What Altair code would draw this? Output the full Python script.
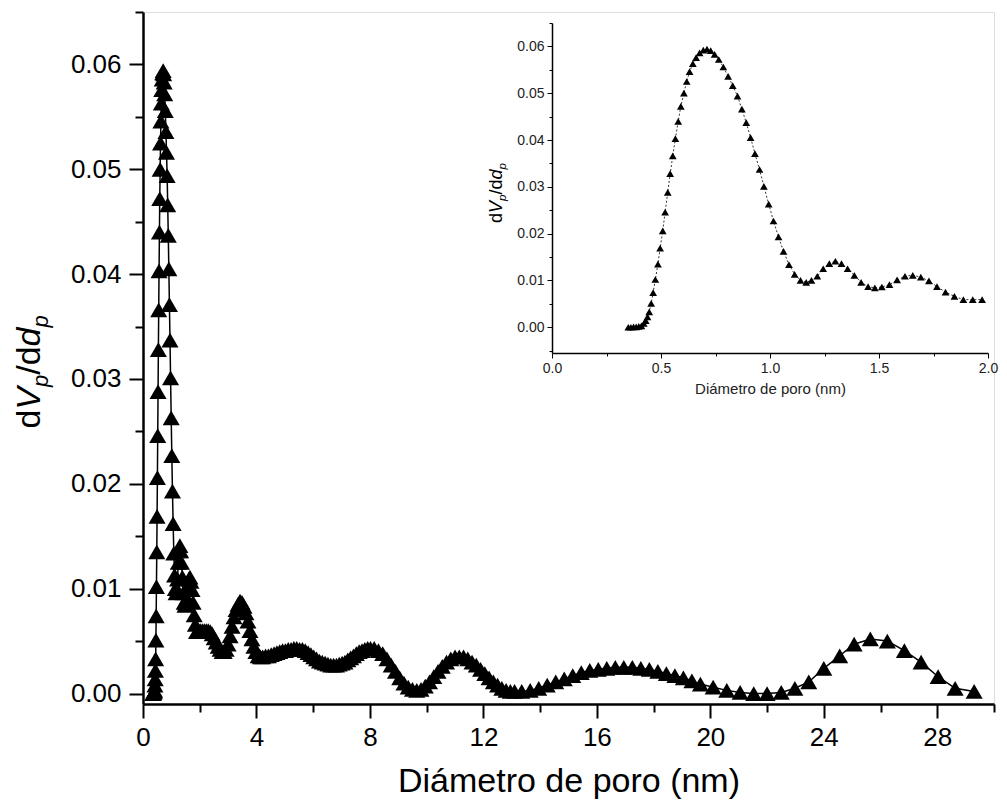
import altair as alt
import pandas as pd

# ---------------- data ----------------
# micropore region (also shown in the inset)
micro_x = [0.350, 0.362, 0.374, 0.386, 0.398, 0.410, 0.421, 0.430, 0.438, 0.446,
           0.455, 0.464, 0.474, 0.486, 0.496, 0.508, 0.519, 0.531, 0.542, 0.554,
           0.566, 0.579, 0.591, 0.605, 0.618, 0.631, 0.646, 0.661, 0.677, 0.694,
           0.711, 0.728, 0.746, 0.765, 0.786, 0.808, 0.829, 0.851, 0.871, 0.891,
           0.911, 0.931, 0.952, 0.972, 0.994, 1.016, 1.039, 1.062, 1.087, 1.113,
           1.140, 1.166, 1.190, 1.217, 1.244, 1.272, 1.300, 1.328, 1.356, 1.387,
           1.418, 1.450, 1.481, 1.513, 1.548, 1.583, 1.619, 1.655, 1.692, 1.729,
           1.766, 1.805, 1.846, 1.887, 1.930, 1.973]
micro_y = [0.0000, 0.0000, 0.0001, 0.0001, 0.0002, 0.0003, 0.0008, 0.0014, 0.0022, 0.0033,
           0.0051, 0.0074, 0.0102, 0.0135, 0.0169, 0.0206, 0.0246, 0.0288, 0.0328, 0.0366,
           0.0403, 0.0440, 0.0472, 0.0500, 0.0525, 0.0546, 0.0563, 0.0576, 0.0586, 0.0592,
           0.0594, 0.0591, 0.0583, 0.0572, 0.0556, 0.0536, 0.0516, 0.0494, 0.0466, 0.0437,
           0.0405, 0.0371, 0.0337, 0.0301, 0.0263, 0.0227, 0.0193, 0.0162, 0.0134, 0.0113,
           0.0100, 0.0096, 0.0100, 0.0109, 0.0125, 0.0136, 0.0141, 0.0136, 0.0125, 0.0111,
           0.0096, 0.0087, 0.0084, 0.0086, 0.0091, 0.0101, 0.0109, 0.0111, 0.0107, 0.0099,
           0.0087, 0.0075, 0.0066, 0.0059, 0.0059, 0.0059]

# meso / macropore region (main chart only)
meso_x = [2.02, 2.09, 2.16, 2.23, 2.30, 2.37, 2.44, 2.51, 2.58, 2.65,
          2.72, 2.79, 2.86, 2.93, 3.00, 3.07, 3.14, 3.21, 3.28, 3.35,
          3.42, 3.49, 3.56, 3.63, 3.70, 3.77, 3.84, 3.91, 3.98, 4.06,
          4.14, 4.22, 4.32, 4.42, 4.52, 4.62, 4.72, 4.82, 4.92, 5.02,
          5.12, 5.22, 5.32, 5.42, 5.52, 5.62, 5.72, 5.82, 5.92, 6.02,
          6.12, 6.22, 6.32, 6.42, 6.52, 6.62, 6.72, 6.82, 6.92, 7.02,
          7.12, 7.22, 7.32, 7.42, 7.52, 7.62, 7.72, 7.82, 7.92, 8.02,
          8.15, 8.30, 8.45, 8.60, 8.75, 8.90, 9.05, 9.20, 9.35, 9.50,
          9.65, 9.80, 9.95, 10.10, 10.25, 10.40, 10.55, 10.70, 10.85, 11.00,
          11.15, 11.30, 11.45, 11.60, 11.75, 11.90, 12.05, 12.20, 12.35, 12.50,
          12.65, 12.80, 12.95, 13.10, 13.35, 13.65, 13.95, 14.25, 14.55, 14.85,
          15.15, 15.45, 15.75, 16.05, 16.35, 16.65, 16.95, 17.25, 17.55, 17.85,
          18.15, 18.45, 18.75, 19.05, 19.35, 19.65, 20.10, 20.58, 21.05, 21.53,
          22.00, 22.50, 22.98, 23.47, 24.00, 24.56, 25.07, 25.64, 26.24, 26.84,
          27.43, 28.03, 28.63, 29.30]
meso_y = [0.0060, 0.0060, 0.0060, 0.0060, 0.0060, 0.0059, 0.0057, 0.0053, 0.0049, 0.0045,
          0.0042, 0.0040, 0.0040, 0.0042, 0.0047, 0.0055, 0.0064, 0.0073, 0.0080, 0.0085,
          0.0088, 0.0087, 0.0083, 0.0077, 0.0069, 0.0060, 0.0052, 0.0045, 0.0040, 0.0036,
          0.0035, 0.0035, 0.0036, 0.0036, 0.0037, 0.0038, 0.0039, 0.0040, 0.0041, 0.0041,
          0.0042, 0.0042, 0.0043, 0.0043, 0.0042, 0.0042, 0.0041, 0.0039, 0.0037, 0.0035,
          0.0033, 0.0031, 0.0030, 0.0029, 0.0028, 0.0027, 0.0027, 0.0027, 0.0028, 0.0029,
          0.0030, 0.0032, 0.0034, 0.0036, 0.0038, 0.0040, 0.0041, 0.0042, 0.0043, 0.0043,
          0.0043, 0.0041, 0.0038, 0.0033, 0.0027, 0.0021, 0.0015, 0.0010, 0.0006, 0.0004,
          0.0003, 0.0004, 0.0007, 0.0011, 0.0016, 0.0021, 0.0026, 0.0030, 0.0033, 0.0035,
          0.0035, 0.0035, 0.0033, 0.0030, 0.0027, 0.0023, 0.0019, 0.0015, 0.0011, 0.0008,
          0.0005, 0.0003, 0.0002, 0.0002, 0.0002, 0.0003, 0.0005, 0.0008, 0.0011, 0.0014,
          0.0017, 0.0020, 0.0022, 0.0023, 0.0024, 0.0025, 0.0025, 0.0025, 0.0024, 0.0023,
          0.0021, 0.0019, 0.0017, 0.0015, 0.0012, 0.0009, 0.0006, 0.0003, 0.0001, 0.0000,
          0.0000, 0.0001, 0.0005, 0.0011, 0.0024, 0.0036, 0.0047, 0.0052, 0.0050, 0.0041,
          0.0030, 0.0016, 0.0005, 0.0002]

# tick values
main_x_ticks = [0, 2, 4, 6, 8, 10, 12, 14, 16, 18, 20, 22, 24, 26, 28, 30]
main_y_ticks = [0.0, 0.005, 0.01, 0.015, 0.02, 0.025, 0.03, 0.035, 0.04, 0.045,
                0.05, 0.055, 0.06, 0.065]
inset_x_ticks = [0.0, 0.25, 0.5, 0.75, 1.0, 1.25, 1.5, 1.75, 2.0]
inset_y_ticks = [-0.005, 0.0, 0.005, 0.01, 0.015, 0.02, 0.025, 0.03, 0.035, 0.04,
                 0.045, 0.05, 0.055, 0.06, 0.065]

x_title = "Diámetro de poro (nm)"

main_df = pd.DataFrame({"d": micro_x + meso_x, "v": micro_y + meso_y})
inset_df = pd.DataFrame({"d": micro_x, "v": micro_y})

FONT = "Liberation Sans"
W, H = 851, 692
INK = "#000000"

# ---------------- main chart ----------------
mx = alt.X("d:Q",
           scale=alt.Scale(domain=[0, 30], nice=False, zero=False),
           axis=alt.Axis(orient="bottom", values=main_x_ticks, format="d",
                         labelExpr="datum.value % 4 == 0 ? datum.label : ''",
                         tickSize={"condition": {"test": "datum.value % 4 == 0", "value": 14}, "value": 8},
                         tickWidth=2, domainWidth=2.5, domainColor=INK, tickColor=INK,
                         labelFont=FONT, labelFontSize=26, labelColor=INK, labelPadding=6,
                         labelFlush=False, labelOverlap=False, grid=False,
                         title=x_title, titleFont=FONT, titleFontSize=34,
                         titleFontWeight="normal", titleColor=INK, titlePadding=14))
my = alt.Y("v:Q",
           scale=alt.Scale(domain=[-0.001, 0.065], nice=False, zero=False),
           axis=alt.Axis(orient="left", values=main_y_ticks, format=".2f",
                         labelExpr="abs(round(datum.value*1000)) % 10 == 0 ? datum.label : ''",
                         tickSize={"condition": {"test": "abs(round(datum.value*1000)) % 10 == 0", "value": 14}, "value": 8},
                         tickWidth=2, domainWidth=2.5, domainColor=INK, tickColor=INK,
                         labelFont=FONT, labelFontSize=26, labelColor=INK, labelPadding=8,
                         labelFlush=False, labelOverlap=False, grid=False, title=None))

main_line = alt.Chart(main_df).mark_line(color=INK, strokeWidth=1.5).encode(
    x=mx, y=my, order="d:Q")
main_pts = alt.Chart(main_df).mark_point(shape="triangle-up", filled=True, size=290,
                                         color=INK, opacity=1).encode(x=mx, y=my)
main = alt.layer(main_line, main_pts)

# ---------------- inset ----------------
ix = alt.X("d:Q",
           scale=alt.Scale(domain=[0, 2], range=[409, 845], nice=False, zero=False),
           axis=alt.Axis(orient="bottom", offset=-351, values=inset_x_ticks, format=".1f",
                         labelExpr="abs(round(datum.value*100)) % 50 == 0 ? datum.label : ''",
                         tickSize={"condition": {"test": "abs(round(datum.value*100)) % 50 == 0", "value": 5}, "value": 3},
                         tickWidth=1, domainWidth=1.5, domainColor=INK, tickColor=INK,
                         labelFont=FONT, labelFontSize=14, labelColor="#222222", labelPadding=3,
                         labelFlush=False, labelOverlap=False, grid=False,
                         title=x_title, titleFont=FONT, titleFontSize=15,
                         titleFontWeight="normal", titleColor="#222222", titlePadding=6))
iy = alt.Y("v:Q",
           scale=alt.Scale(domain=[-0.0055, 0.065], range=[341, 11], nice=False, zero=False),
           axis=alt.Axis(orient="left", offset=-409, values=inset_y_ticks, format=".2f",
                         labelExpr="datum.value >= 0 && abs(round(datum.value*1000)) % 10 == 0 ? datum.label : ''",
                         tickSize={"condition": {"test": "abs(round(datum.value*1000)) % 10 == 0", "value": 5}, "value": 3},
                         tickWidth=1, domainWidth=1.5, domainColor=INK, tickColor=INK,
                         labelFont=FONT, labelFontSize=14, labelColor="#222222", labelPadding=3,
                         labelFlush=False, labelOverlap=False, grid=False, title=None))

inset_line = alt.Chart(inset_df).mark_line(color=INK, strokeWidth=0.8, strokeDash=[2, 2]).encode(
    x=ix, y=iy, order="d:Q")
inset_pts = alt.Chart(inset_df).mark_point(shape="triangle-up", filled=True, size=60,
                                           color=INK, opacity=1).encode(x=ix, y=iy)
inset = alt.layer(inset_line, inset_pts)

# ---------------- y titles with subscripts ----------------
def piece(txt, x, y, size, style="normal"):
    return alt.Chart(pd.DataFrame({"t": [txt]})).mark_text(
        angle=270, align="left", baseline="alphabetic", font=FONT,
        fontSize=size, fontStyle=style, color=INK
    ).encode(text="t:N", x=alt.value(x), y=alt.value(y))

title_pieces = [
    piece("d", -103, 416.6, 34),
    piece("V", -103, 397.7, 34, "italic"),
    piece("p", -95, 375.0, 22, "italic"),
    piece("/d", -103, 362.8, 34),
    piece("d", -103, 334.4, 34, "italic"),
    piece("p", -95, 315.5, 22, "italic"),
    # inset
    piece("d", 359, 210.9, 18),
    piece("V", 359, 200.9, 18, "italic"),
    piece("p", 363, 188.9, 11.5, "italic"),
    piece("/d", 359, 182.5, 18),
    piece("d", 359, 167.5, 18, "italic"),
    piece("p", 363, 157.5, 11.5, "italic"),
]

chart = alt.layer(main, inset, *title_pieces).resolve_scale(
    x="independent", y="independent"
).properties(
    width=W, height=H,
    autosize=alt.AutoSizeParams(type="none"),
    padding={"left": 135, "top": 4, "right": 5, "bottom": 100},
).configure_view(stroke=None).configure(background="white")

chart.save("out.html", embed_options={"renderer": "svg", "actions": False})
